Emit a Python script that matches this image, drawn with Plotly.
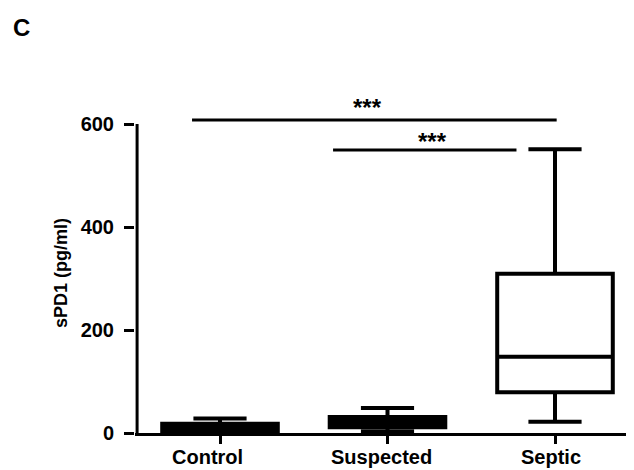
import plotly.graph_objects as go

# ---- data ----
categories = ["Control", "Suspected", "Septic"]
q1 = [3, 11, 79]
median = [10, 20, 148]
q3 = [18, 31, 309]
lower = [1, 3, 22]
upper = [28, 48.5, 551]
box_fill = ["black", "black", "white"]

y_ticks = [0, 200, 400, 600]
y_title = "sPD1 (pg/ml)"
panel_label = "C"

sig_pairs = [("Control", "Septic"), ("Suspected", "Septic")]
sig_levels = [608, 549.5]
sig_text = ["***", "***"]

# ---- style / layout constants ----
FONT = "Liberation Sans, Arial, sans-serif"
PAGE_OFF = 8  # default body margin of the html page
W, H = 634 - PAGE_OFF, 470 - PAGE_OFF
ML, MR, MT, MB = 135 - PAGE_OFF, 0, 95 - PAGE_OFF, 37
PW, PH = W - ML - MR, H - MT - MB
PX_PER_CAT = 167.5
X0 = -85 / PX_PER_CAT
X1 = X0 + PW / PX_PER_CAT
PX_PER_Y = 309 / 600
Y_TOP = PH / PX_PER_Y
sig_ext = [(-0.167, 0.01), (-0.325, -0.23)]
sig_text_x = [0.88, 1.27]
sig_text_dy = [25, 16.5]
label_shift = [-13, -6, -4]

idx = {c: i for i, c in enumerate(categories)}

fig = go.Figure()
for i, c in enumerate(categories):
    fig.add_trace(go.Box(
        x=[c], q1=[q1[i]], median=[median[i]], q3=[q3[i]],
        lowerfence=[lower[i]], upperfence=[upper[i]],
        width=0.69, whiskerwidth=0.46, fillcolor=box_fill[i],
        line=dict(color="black", width=4), boxpoints=False,
        showlegend=False, hoverinfo="skip",
    ))

shapes = []
# y axis line (0..600 only)
shapes.append(dict(type="line", xref="x", yref="y", x0=-0.495, x1=-0.495,
                   y0=y_ticks[0], y1=y_ticks[-1],
                   line=dict(color="black", width=3)))
annotations = []
for (a, b), lvl, (e0, e1), txt, tx, dy in zip(sig_pairs, sig_levels, sig_ext, sig_text,
                                              sig_text_x, sig_text_dy):
    shapes.append(dict(type="line", xref="x", yref="y", x0=idx[a] + e0, x1=idx[b] + e1,
                       y0=lvl, y1=lvl, line=dict(color="black", width=3)))
    annotations.append(dict(x=tx, y=lvl + dy, xref="x", yref="y", text=txt, showarrow=False,
                            font=dict(family=FONT, size=24, color="black", weight="bold"),
                            xanchor="center", yanchor="middle"))

for i, c in enumerate(categories):
    annotations.append(dict(x=c, y=0, xref="x", yref="y", text=c, showarrow=False,
                            xshift=label_shift[i], yshift=-24,
                            font=dict(family=FONT, size=20, color="black", weight="bold"),
                            xanchor="center", yanchor="middle"))

annotations.append(dict(x=(61 - PAGE_OFF - ML) / PW, xref="paper",
                        y=(433 - 273) / PX_PER_Y, yref="y",
                        text=y_title, textangle=-90, showarrow=False,
                        font=dict(family=FONT, size=18, color="black", weight="bold"),
                        xanchor="center", yanchor="middle"))
annotations.append(dict(x=(21 - PAGE_OFF - ML) / PW, xref="paper",
                        y=(H - (27 - PAGE_OFF) - MB) / PH, yref="paper",
                        text=panel_label, showarrow=False,
                        font=dict(family=FONT, size=24, color="black", weight="bold"),
                        xanchor="center", yanchor="middle"))

fig.update_layout(
    width=W, height=H,
    margin=dict(l=ML, r=MR, t=MT, b=MB, pad=0),
    paper_bgcolor="white", plot_bgcolor="white",
    boxmode="overlay",
    shapes=shapes, annotations=annotations,
    xaxis=dict(type="category", range=[X0, X1], showgrid=False, zeroline=False,
               showline=True, linecolor="black", linewidth=3,
               ticks="outside", ticklen=8, tickwidth=3, tickcolor="black",
               showticklabels=False, fixedrange=True),
    yaxis=dict(range=[0, Y_TOP], showgrid=False, zeroline=False, showline=False,
               tickmode="array", tickvals=y_ticks, ticktext=[str(v) for v in y_ticks],
               ticks="outside", ticklen=10, tickwidth=3, tickcolor="black",
               ticklabelstandoff=6,
               tickfont=dict(family=FONT, size=20, color="black", weight="bold"),
               fixedrange=True),
)

fig.write_html("out.html")
